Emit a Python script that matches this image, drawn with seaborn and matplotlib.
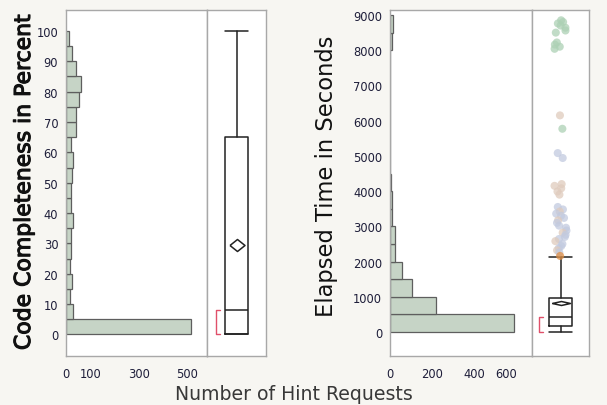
import numpy as np
import pandas as pd
import matplotlib
matplotlib.use("Agg")
import matplotlib.pyplot as plt
import matplotlib.patheffects as pe
import seaborn as sns

# Code completeness histogram (bins of 5 percent, 0-100)
completeness_edges = np.arange(0, 105, 5)
completeness_counts = [514, 30, 15, 25, 15, 19, 19, 30, 19, 21,
                       25, 30, 21, 42, 42, 52, 60, 41, 25, 11]

# Elapsed time histogram (bins of 500 s, 0-9000)
time_edges = np.arange(0, 9500, 500)
time_counts = [590, 216, 106, 58, 24, 24, 11, 8, 6, 0,
               0, 0, 0, 0, 0, 0, 9, 12]

# Box plot summaries
completeness_box = dict(whislo=0, q1=0, med=8, q3=65, whishi=100, mean=29.5)
completeness_short_half = (0, 8)
time_box = dict(whislo=0, q1=170, med=426, q3=966, whishi=2130, mean=820)
time_short_half = (0, 426)

# Outliers of elapsed time and their group
time_outliers = [8850, 8800, 8760, 8700, 8640, 8560, 8500, 8220, 8160, 8100, 8040,
                 6150, 5770, 5080, 4940, 4200, 4150, 4080, 3990, 3900,
                 3550, 3480, 3420, 3360, 3300, 3240, 3170, 3100, 3020, 2960,
                 2880, 2820, 2760, 2700, 2640, 2580, 2500, 2440, 2380, 2320, 2260, 2160]
outlier_group = ["g"] * 11 + ["t", "g", "b", "b", "t", "t", "t", "t", "t",
                 "b", "b", "t", "b", "b", "b", "t", "b", "b", "b",
                 "b", "t", "b", "b", "b", "t", "b", "b", "b", "t", "b", "o"]
group_colors = {"g": "#add1b5", "b": "#c2cadf", "t": "#dfcbbd", "o": "#e08f45"}

BG = "#f7f6f2"
BAR = "#c6d4c6"
SPINE = "#a8a8a8"
TICKTXT = "#1e1e3a"

sns.set_style("white")
plt.rcParams["font.family"] = ["DejaVu Sans"]

fig = plt.figure(figsize=(6.07, 4.06), dpi=100)
fig.patch.set_facecolor(BG)

W, H = 607.0, 406.0


def add_ax(x0, x1, y0=11, y1=357):
    return fig.add_axes([x0 / W, (H - y1) / H, (x1 - x0) / W, (y1 - y0) / H])


def style_axes(ax):
    ax.set_facecolor("white")
    for s in ax.spines.values():
        s.set_visible(True)
        s.set_color(SPINE)
        s.set_linewidth(1.0)
    ax.tick_params(direction="out", width=0.9, color="#8c8c8c",
                   labelsize=8.3, labelcolor=TICKTXT)
    ax.tick_params(axis="x", length=4.7, pad=3.0)
    ax.tick_params(axis="y", length=3.6, pad=2.0)


def hist_panel(ax, edges, counts, xlim, ylim, xticks, xlabels, yminor, ymajor):
    df = pd.DataFrame({"value": edges[:-1] + np.diff(edges) / 2, "count": counts})
    sns.histplot(data=df, y="value", weights="count",
                 binwidth=float(edges[1] - edges[0]),
                 binrange=(float(edges[0]), float(edges[-1])),
                 ax=ax, color=BAR, edgecolor="#5e5e5e", linewidth=0.9, alpha=1)
    ax.set_xlim(*xlim)
    ax.set_ylim(*ylim)
    ax.set_xlabel("")
    ax.set_ylabel("")
    style_axes(ax)
    ax.set_xticks(xticks)
    ax.set_xticklabels(xlabels)
    ax.set_yticks(yminor)
    ax.set_yticklabels([f"{v:g}" if v in ymajor else "" for v in yminor])


def box_panel(ax, stats, short_half, ylim, box_w, mean_marker, mean_size, bracket_x):
    style_axes(ax)
    st = dict(stats)
    st["fliers"] = []
    lp = dict(color="#222222", linewidth=1.1)
    ax.bxp([st], positions=[0], widths=box_w, showmeans=True, showfliers=False,
           boxprops=lp, whiskerprops=lp, capprops=lp, medianprops=lp,
           meanprops=dict(marker=mean_marker, markersize=mean_size,
                          markerfacecolor="white", markeredgecolor="#222222",
                          markeredgewidth=1.1),
           capwidths=box_w, manage_ticks=False)
    lo, hi = short_half
    ax.plot([bracket_x + 0.12, bracket_x, bracket_x, bracket_x + 0.12],
            [lo, lo, hi, hi], color="#e0506a", linewidth=1.0)
    ax.set_xlim(-1, 1)
    ax.set_ylim(*ylim)
    ax.set_xticks([])
    ax.set_yticks([])


diamond_sq = [(-1, 0), (0, 0.8), (1, 0), (0, -0.8), (-1, 0)]
diamond_flat = [(-1, 0), (0, 0.22), (1, 0), (0, -0.22), (-1, 0)]

# left: code completeness
ylim_c = (-7.1, 106.9)
ax1 = add_ax(66, 207)
hist_panel(ax1, completeness_edges, completeness_counts, (0, 580), ylim_c,
           np.arange(0, 600, 100), ["0", "100", "", "300", "", "500"],
           np.arange(-5, 110, 5), set(range(0, 110, 10)))
ax2 = add_ax(207, 266)
box_panel(ax2, completeness_box, completeness_short_half, ylim_c,
          0.77, diamond_sq, 10.8, -0.69)

# right: elapsed time
ylim_t = (-681, 9142)
ax3 = add_ax(390, 532)
hist_panel(ax3, time_edges, time_counts, (0, 673), ylim_t,
           np.arange(0, 700, 100), ["0", "", "200", "", "400", "", "600"],
           np.arange(-500, 9500, 500), set(range(0, 10000, 1000)))
ax3.get_xticklabels()[-1].set_ha("right")
ax4 = add_ax(532, 589)
box_panel(ax4, time_box, time_short_half, ylim_t,
          0.81, diamond_flat, 13, -0.75)
np.random.seed(3)
sns.stripplot(y=time_outliers, hue=outlier_group, palette=group_colors,
              jitter=0.22, size=5.8, alpha=0.75, linewidth=0, legend=False,
              ax=ax4, zorder=3)
ax4.set_xlim(-1, 1)
ax4.set_ylim(*ylim_t)
ax4.set_xticks([])
ax4.set_yticks([])
ax4.set_ylabel("")

# axis titles
fig.text(30 / W, (H - 182.5) / H, "Code Completeness in Percent", rotation=90,
         rotation_mode="anchor", ha="center", va="baseline", fontsize=15.8,
         color="#111111",
         path_effects=[pe.withStroke(linewidth=0.8, foreground="#111111")])
fig.text(333 / W, (H - 176) / H, "Elapsed Time in Seconds", rotation=90,
         rotation_mode="anchor", ha="center", va="baseline", fontsize=16.3,
         color="#111111")
fig.text(294 / W, (H - 400) / H, "Number of Hint Requests",
         ha="center", va="baseline", fontsize=13.6, color="#383838")

fig.savefig("out.png", dpi=100, facecolor=BG)
